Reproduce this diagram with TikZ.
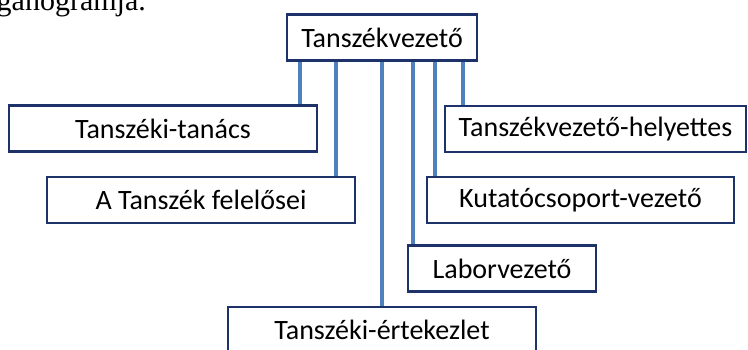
\documentclass[tikz,border=0pt]{standalone}
\usepackage{fontspec}
\setmainfont{Carlito}
\newfontfamily\captionfont{Liberation Serif}
\definecolor{boxline}{RGB}{28,50,104}
\definecolor{linkblue}{RGB}{79,129,189}
\begin{document}
\begin{tikzpicture}[x=1pt,y=-1pt,
    unit/.style={draw=boxline,line width=2.2pt,fill=white,inner sep=0pt,
      minimum height=46pt,font=\fontsize{28}{33}\selectfont},
    link/.style={draw=linkblue,line width=4pt}]
  \useasboundingbox (0,0) rectangle (748,349);
  \node[anchor=base east,inner sep=0pt,font=\captionfont\fontsize{30}{34}\selectfont]
    (caption) at (146,10) {ganogramja.};
  \node[unit,minimum width=190pt] (vezeto) at (382,37.5) {Tanszékvezető};
  \node[unit,minimum width=308pt] (tanacs) at (163,128.5) {Tanszéki-tanács};
  \node[unit,minimum width=308pt] (felelos) at (201,200) {A Tanszék felelősei};
  \node[unit,minimum width=301pt] (helyettes) at (595.5,129) {Tanszékvezető-helyettes};
  \node[unit,minimum width=307pt] (kutato) at (580.5,200) {Kutatócsoport-vezető};
  \node[unit,minimum width=188pt] (labor) at (502,268.5) {Laborvezető};
  \node[unit,minimum width=308pt] (ertekezlet) at (382,330) {Tanszéki-értekezlet};
  \foreach \xx/\kid in {300/tanacs,336/felelos,382/ertekezlet,413/labor,435/kutato,463/helyettes}
    \draw[link] (vezeto.south -| \xx,0) -- (\kid.north -| \xx,0);
\end{tikzpicture}
\end{document}
